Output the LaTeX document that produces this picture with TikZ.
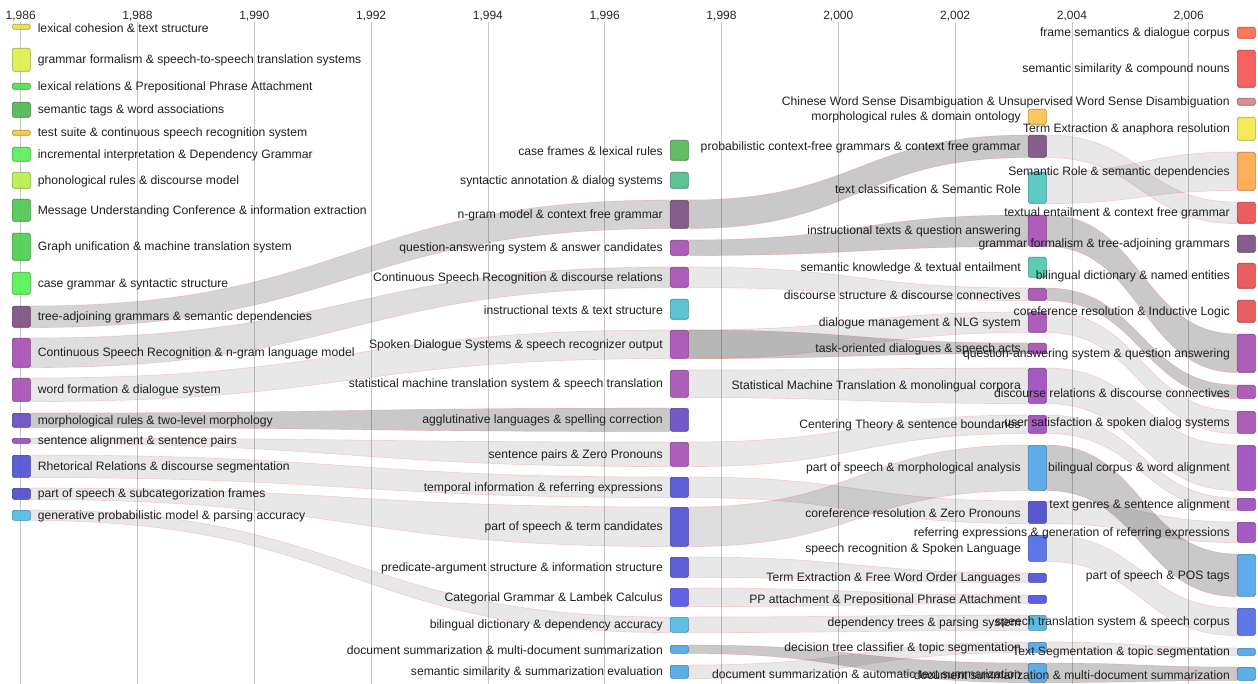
\documentclass[tikz,border=0pt]{standalone}
\usepackage{fontspec}
\setmainfont{Liberation Sans}
\usetikzlibrary{backgrounds}
\definecolor{cYel}{HTML}{E6E64D}
\definecolor{cYG}{HTML}{DCEF55}
\definecolor{cGa}{HTML}{55E055}
\definecolor{cGb}{HTML}{55B955}
\definecolor{cOrY}{HTML}{F5C842}
\definecolor{cGc}{HTML}{5CF05C}
\definecolor{cLG}{HTML}{B8F050}
\definecolor{cGd}{HTML}{55C855}
\definecolor{cGe}{HTML}{52D052}
\definecolor{cGf}{HTML}{58F258}
\definecolor{cDP}{HTML}{805585}
\definecolor{cP}{HTML}{A855B5}
\definecolor{cBP}{HTML}{6C52C4}
\definecolor{cPb}{HTML}{A050C0}
\definecolor{cB}{HTML}{5555D5}
\definecolor{cBb}{HTML}{5252CF}
\definecolor{cLB}{HTML}{55BDE5}
\definecolor{cGg}{HTML}{5CB85C}
\definecolor{cTG}{HTML}{55C08C}
\definecolor{cCy}{HTML}{55C0D0}
\definecolor{cBc}{HTML}{5A5AE8}
\definecolor{cLBb}{HTML}{55AAE5}
\definecolor{cOrb}{HTML}{FCC552}
\definecolor{cTe}{HTML}{55C8C0}
\definecolor{cTeb}{HTML}{55C8B0}
\definecolor{cSky}{HTML}{55A8E8}
\definecolor{cBd}{HTML}{5050CC}
\definecolor{cBe}{HTML}{5570E5}
\definecolor{cBf}{HTML}{5555E5}
\definecolor{cLBc}{HTML}{55B5E0}
\definecolor{cRO}{HTML}{FF7050}
\definecolor{cR}{HTML}{F55858}
\definecolor{cPk}{HTML}{D88890}
\definecolor{cYb}{HTML}{F5E850}
\definecolor{cOr}{HTML}{FFAA50}
\definecolor{cRb}{HTML}{E85555}
\tikzset{
  topicbox/.style={draw=#1!72!black, fill=#1, fill opacity=0.95, rounded corners=1.5pt,
    minimum width=18pt, inner sep=0pt, line width=0.6pt},
  lab/.style={font=\fontsize{12.15}{14}\selectfont, text=black!88, inner sep=0pt},
  yearlab/.style={font=\fontsize{12}{14}\selectfont, text=black!85, inner sep=0pt},
  gridline/.style={draw=black!22, line width=0.8pt},
  flowlight/.style={fill=black, fill opacity=0.09, draw=red!80, draw opacity=0.2, line width=0.6pt},
  flowmid/.style={fill=black, fill opacity=0.13, draw=red!80, draw opacity=0.2, line width=0.6pt},
  flowdm/.style={fill=black, fill opacity=0.17, draw=red!80, draw opacity=0.2, line width=0.6pt},
  flowdark/.style={fill=black, fill opacity=0.21, draw=red!80, draw opacity=0.2, line width=0.6pt},
}
\newcommand\tpL[5]{%
  \node[topicbox=#4, minimum height={(#3-#2)*1pt}, anchor=north west] (#1) at (12,#2) {};
  \node[lab, anchor=west] (#1l) at ([xshift=7pt,yshift=-1pt]#1.east) {#5};}
\newcommand\tpR[6]{%
  \node[topicbox=#5, minimum height={(#4-#3)*1pt}, anchor=north west] (#1) at (#2,#3) {};
  \node[lab, anchor=east] (#1l) at ([xshift=-7pt,yshift=-1pt]#1.west) {#6};}
\newcommand\flowband[4]{%
  \path[#1] (#2.north east) .. controls +(#4,0) and +(-#4,0) .. (#3.north west)
    -- (#3.south west) .. controls +(-#4,0) and +(#4,0) .. (#2.south east) -- cycle;}
\begin{document}
\begin{tikzpicture}[x=1pt,y=-1pt]
\useasboundingbox (0,0) rectangle (1258,684);
% year axis
\foreach \xx/\lab [count=\i] in {20.7/{1,986},137.5/{1,988},254.3/{1,990},371.1/{1,992},487.9/{1,994},604.7/{1,996},721.5/{1,998},838.3/{2,000},955.1/{2,002},1071.9/{2,004},1188.7/{2,006}}{
  \node[yearlab] (yr\i) at (\xx,16.5) {\lab};
}
% column 1
\tpL{a1}{24}{29}{cYel}{lexical cohesion \& text structure}
\tpL{a2}{48}{71}{cYG}{grammar formalism \& speech-to-speech translation systems}
\tpL{a3}{83}{89}{cGa}{lexical relations \& Prepositional Phrase Attachment}
\tpL{a4}{102}{117}{cGb}{semantic tags \& word associations}
\tpL{a5}{130}{135}{cOrY}{test suite \& continuous speech recognition system}
\tpL{a6}{147}{161}{cGc}{incremental interpretation \& Dependency Grammar}
\tpL{a7}{172}{188}{cLG}{phonological rules \& discourse model}
\tpL{a8}{199}{221}{cGd}{Message Understanding Conference \& information extraction}
\tpL{a9}{233}{260}{cGe}{Graph unification \& machine translation system}
\tpL{a10}{272}{294}{cGf}{case grammar \& syntactic structure}
\tpL{a11}{306}{327}{cDP}{tree-adjoining grammars \& semantic dependencies}
\tpL{a12}{338}{367}{cP}{Continuous Speech Recognition \& n-gram language model}
\tpL{a13}{378}{401}{cP}{word formation \& dialogue system}
\tpL{a14}{413}{427}{cBP}{morphological rules \& two-level morphology}
\tpL{a15}{438}{443}{cPb}{sentence alignment \& sentence pairs}
\tpL{a16}{455}{477}{cB}{Rhetorical Relations \& discourse segmentation}
\tpL{a17}{488}{499}{cBb}{part of speech \& subcategorization frames}
\tpL{a18}{510}{520}{cLB}{generative probabilistic model \& parsing accuracy}
% column 2
\tpR{b1}{670}{140}{160}{cGg}{case frames \& lexical rules}
\tpR{b2}{670}{172}{188}{cTG}{syntactic annotation \& dialog systems}
\tpR{b3}{670}{200}{228}{cDP}{n-gram model \& context free grammar}
\tpR{b4}{670}{240}{255}{cP}{question-answering system \& answer candidates}
\tpR{b5}{670}{267}{287}{cP}{Continuous Speech Recognition \& discourse relations}
\tpR{b6}{670}{299}{319}{cCy}{instructional texts \& text structure}
\tpR{b7}{670}{330}{358}{cP}{Spoken Dialogue Systems \& speech recognizer output}
\tpR{b8}{670}{370}{397}{cP}{statistical machine translation system \& speech translation}
\tpR{b9}{670}{408}{431}{cBP}{agglutinative languages \& spelling correction}
\tpR{b10}{670}{442}{466}{cP}{sentence pairs \& Zero Pronouns}
\tpR{b11}{670}{477}{497}{cB}{temporal information \& referring expressions}
\tpR{b12}{670}{507}{546}{cB}{part of speech \& term candidates}
\tpR{b13}{670}{557}{577}{cB}{predicate-argument structure \& information structure}
\tpR{b14}{670}{588}{606}{cBc}{Categorial Grammar \& Lambek Calculus}
\tpR{b15}{670}{617}{632}{cLB}{bilingual dictionary \& dependency accuracy}
\tpR{b16}{670}{645}{653}{cLBb}{document summarization \& multi-document summarization}
\tpR{b17}{670}{665}{678}{cLBb}{semantic similarity \& summarization evaluation}
% column 3
\tpR{c1}{1028}{109}{124}{cOrb}{morphological rules \& domain ontology}
\tpR{c2}{1028}{135}{157}{cDP}{probabilistic context-free grammars \& context free grammar}
\tpR{c3}{1028}{172}{203}{cTe}{text classification \& Semantic Role}
\tpR{c4}{1028}{215}{246}{cP}{instructional texts \& question answering}
\tpR{c5}{1028}{257}{277}{cTeb}{semantic knowledge \& textual entailment}
\tpR{c6}{1028}{288}{300}{cP}{discourse structure \& discourse connectives}
\tpR{c7}{1028}{312}{332}{cP}{dialogue management \& NLG system}
\tpR{c8}{1028}{343}{353}{cP}{task-oriented dialogues \& speech acts}
\tpR{c9}{1028}{368}{403}{cPb}{Statistical Machine Translation \& monolingual corpora}
\tpR{c10}{1028}{415}{433}{cPb}{Centering Theory \& sentence boundaries}
\tpR{c11}{1028}{445}{490}{cSky}{part of speech \& morphological analysis}
\tpR{c12}{1028}{501}{523}{cBd}{coreference resolution \& Zero Pronouns}
\tpR{c13}{1028}{535}{561}{cBe}{speech recognition \& Spoken Language}
\tpR{c14}{1028}{573}{582}{cB}{Term Extraction \& Free Word Order Languages}
\tpR{c15}{1028}{595}{603}{cBf}{PP attachment \& Prepositional Phrase Attachment}
\tpR{c16}{1028}{615}{630}{cLBc}{dependency trees \& parsing system}
\tpR{c17}{1028}{642}{652}{cLBb}{decision tree classifier \& topic segmentation}
\tpR{c18}{1028}{663}{682}{cLBb}{document summarization \& automatic text summarization}
% column 4
\tpR{d1}{1237}{27}{38}{cRO}{frame semantics \& dialogue corpus}
\tpR{d2}{1237}{50}{87}{cR}{semantic similarity \& compound nouns}
\tpR{d3}{1237}{98}{105}{cPk}{Chinese Word Sense Disambiguation \& Unsupervised Word Sense Disambiguation}
\tpR{d4}{1237}{117}{140}{cYb}{Term Extraction \& anaphora resolution}
\tpR{d5}{1237}{152}{190}{cOr}{Semantic Role \& semantic dependencies}
\tpR{d6}{1237}{202}{223}{cRb}{textual entailment \& context free grammar}
\tpR{d7}{1237}{235}{252}{cDP}{grammar formalism \& tree-adjoining grammars}
\tpR{d8}{1237}{263}{288}{cRb}{bilingual dictionary \& named entities}
\tpR{d9}{1237}{300}{322}{cRb}{coreference resolution \& Inductive Logic}
\tpR{d10}{1237}{334}{372}{cP}{question-answering system \& question answering}
\tpR{d11}{1237}{385}{398}{cP}{discourse relations \& discourse connectives}
\tpR{d12}{1237}{411}{433}{cP}{user satisfaction \& spoken dialog systems}
\tpR{d13}{1237}{445}{490}{cPb}{bilingual corpus \& word alignment}
\tpR{d14}{1237}{498}{510}{cPb}{text genres \& sentence alignment}
\tpR{d15}{1237}{522}{542}{cPb}{referring expressions \& generation of referring expressions}
\tpR{d16}{1237}{554}{596}{cSky}{part of speech \& POS tags}
\tpR{d17}{1237}{608}{635}{cBe}{speech translation system \& speech corpus}
\tpR{d18}{1237}{648}{655}{cLBb}{Text Segmentation \& topic segmentation}
\tpR{d19}{1237}{667}{680}{cLBb}{document summarization \& multi-document summarization}
\begin{pgfonlayer}{background}
\foreach \xx in {20.7,137.5,254.3,371.1,487.9,604.7,721.5,838.3,955.1,1071.9,1188.7}{
  \draw[gridline] (\xx,22) -- (\xx,684);
}
% col1 -> col2
\flowband{flowdm}{a11}{b3}{320}
\flowband{flowmid}{a12}{b5}{320}
\flowband{flowlight}{a13}{b7}{320}
\flowband{flowdark}{a14}{b9}{320}
\flowband{flowlight}{a15}{b10}{320}
\flowband{flowlight}{a16}{b11}{320}
\flowband{flowlight}{a17}{b12}{320}
\flowband{flowlight}{a18}{b15}{320}
% col2 -> col3
\flowband{flowdark}{b3}{c2}{170}
\flowband{flowdark}{b4}{c4}{170}
\flowband{flowlight}{b5}{c6}{170}
\flowband{flowlight}{b7}{c7}{170}
\flowband{flowdark}{b7}{c8}{170}
\flowband{flowlight}{b8}{c9}{170}
\flowband{flowlight}{b10}{c10}{170}
\flowband{flowlight}{b11}{c12}{170}
\flowband{flowmid}{b12}{c11}{170}
\flowband{flowlight}{b13}{c14}{170}
\flowband{flowlight}{b14}{c15}{170}
\flowband{flowlight}{b15}{c16}{170}
\flowband{flowdark}{b16}{c18}{170}
\flowband{flowlight}{b17}{c17}{170}
% col3 -> col4
\flowband{flowlight}{c2}{d6}{95}
\flowband{flowlight}{c3}{d5}{95}
\flowband{flowdark}{c4}{d10}{95}
\flowband{flowdark}{c6}{d11}{95}
\flowband{flowlight}{c7}{d12}{95}
\flowband{flowlight}{c9}{d13}{95}
\flowband{flowlight}{c10}{d14}{95}
\flowband{flowdark}{c11}{d16}{95}
\flowband{flowlight}{c12}{d15}{95}
\flowband{flowlight}{c13}{d17}{95}
\flowband{flowlight}{c17}{d18}{95}
\flowband{flowdark}{c18}{d19}{95}
\end{pgfonlayer}
\end{tikzpicture}
\end{document}
